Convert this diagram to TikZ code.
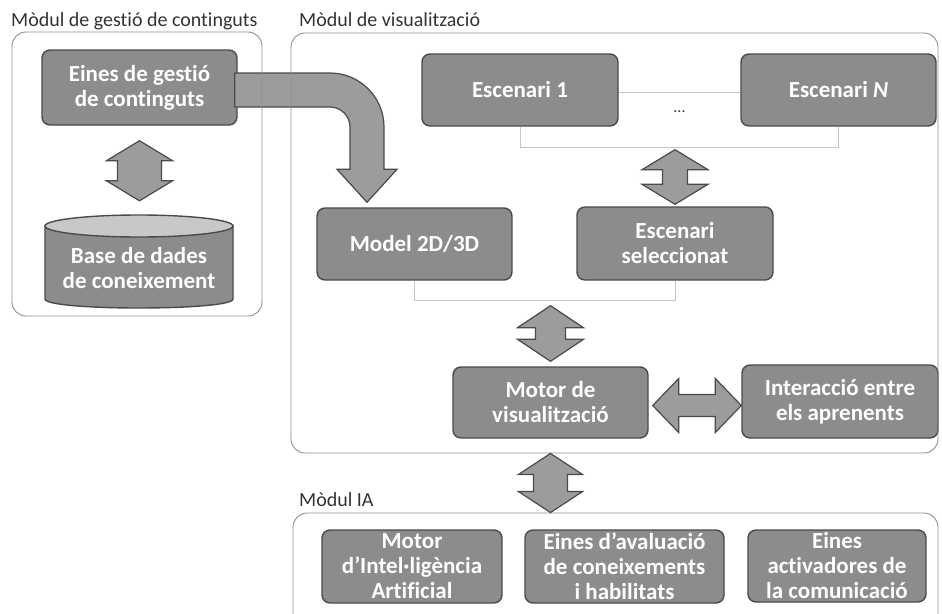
\documentclass[tikz,border=0pt]{standalone}
\usepackage{fontspec}
\setmainfont{Carlito}[Ligatures=NoCommon]
\usetikzlibrary{calc}
\definecolor{boxfill}{HTML}{8C8C8C}
\definecolor{boxline}{HTML}{4A4A4A}
\definecolor{modline}{HTML}{8E8E8E}
\definecolor{brline}{HTML}{C4C4C4}
\definecolor{arrowfill}{HTML}{9C9C9C}
\definecolor{titlecol}{HTML}{333333}
\definecolor{cyltop}{HTML}{C8C8C8}
\newcommand\fatv[5]{\draw[fat] (#1) -- ($(#1)+(#3,#5)$) -- ($(#1)+(#4,#5)$) -- ($(#2)+(#4,-#5)$) -- ($(#2)+(#3,-#5)$) -- (#2) -- ($(#2)+(-#3,-#5)$) -- ($(#2)+(-#4,-#5)$) -- ($(#1)+(-#4,#5)$) -- ($(#1)+(-#3,#5)$) -- cycle;}
\newcommand\fath[5]{\draw[fat] (#1) -- ($(#1)+(#5,-#3)$) -- ($(#1)+(#5,-#4)$) -- ($(#2)+(-#5,-#4)$) -- ($(#2)+(-#5,-#3)$) -- (#2) -- ($(#2)+(-#5,#3)$) -- ($(#2)+(-#5,#4)$) -- ($(#1)+(#5,#4)$) -- ($(#1)+(#5,#3)$) -- cycle;}
\begin{document}
\begin{tikzpicture}[x=1pt,y=-1pt,
  gbox/.style={draw=boxline, line width=1.4pt, fill=boxfill, rounded corners=8pt, text=white,
    font=\fontsize{23}{25}\selectfont\bfseries, align=center, inner sep=0pt},
  cyltext/.style={text=white, font=\fontsize{23}{25}\selectfont\bfseries, align=center, inner sep=0pt},
  module/.style={draw=modline, line width=0.9pt, rounded corners=14pt, inner sep=0pt},
  title/.style={font=\fontsize{20}{24}\selectfont, text=titlecol, anchor=base west, inner sep=0pt},
  fat/.style={draw=boxline, line width=1.2pt, fill=arrowfill, line join=miter},
  bracket/.style={draw=brline, line width=0.9pt},
  dotstyle/.style={font=\fontsize{16}{18}\selectfont, text=titlecol, inner sep=0pt},
]
\useasboundingbox (0,0) rectangle (942,613);
\clip (0,0) rectangle (942,613);

% cylinder body (drawn first, text node on top)
\draw[draw=boxline, line width=1.4pt, fill=boxfill]
  (45,226) -- (45,299) .. controls (45,311) and (233,311) .. (233,299) -- (233,226) -- cycle;
\draw[draw=boxline, line width=1.4pt, fill=cyltop] (139,226) ellipse [x radius=94, y radius=11];

% boxes
\node[gbox, minimum width=195, minimum height=75] (eines) at (139.5,87.5) {Eines de gestió\\de continguts};
\node[cyltext, minimum width=188, minimum height=82] (base) at (139,268) {Base de dades\\de coneixement};
\node[gbox, minimum width=196, minimum height=72] (esc1) at (520,90) {Escenari 1};
\node[gbox, minimum width=195, minimum height=72] (escN) at (838.5,90) {Escenari \textit{N}};
\node[gbox, minimum width=195, minimum height=72] (model) at (414.5,244) {Model 2D/3D};
\node[gbox, minimum width=196, minimum height=73] (sel) at (675,243.5) {Escenari\\seleccionat};
\node[gbox, minimum width=195, minimum height=71] (motor) at (550.5,402.5) {Motor de\\visualització};
\node[gbox, minimum width=196, minimum height=73] (inter) at (840,401.5) {Interacció entre\\els aprenents};
\node[gbox, minimum width=180, minimum height=73] (ia1) at (412,566.5) {Motor\\d’Intel·ligència\\Artificial};
\node[gbox, minimum width=199, minimum height=73] (ia2) at (624.5,566.5) {Eines d’avaluació\\de coneixements\\i habilitats};
\node[gbox, minimum width=178, minimum height=72] (ia3) at (837,566) {Eines\\activadores de\\la comunicació};

% brackets and thin link
\coordinate (br1) at ($(esc1.south)+(0,21)$);
\draw[bracket] (esc1.south) -- (br1) -| (escN.south);
\draw[bracket] ($(esc1.east)+(0,2)$) -- ($(escN.west)+(0,2)$);
\node[dotstyle] (dots) at ($(esc1.east)!0.5!(escN.west)+(0,22)$) {...};
\coordinate (br2) at ($(model.south)+(0,20)$);
\draw[bracket] (model.south) -- (br2) -| (sel.south);

% curved arrow from eines to model
\coordinate (cA) at ($(eines.east)+(-3,2.5)$);
\coordinate (cB) at ($(model.north)+(-47.5,-5)$);
\coordinate (K) at (cA -| cB);
\draw[fat] ($(cA)+(0,-17)$) -- ($(K)+(-37,-17)$)
  .. controls ($(K)+(-7.2,-17)$) and ($(K)+(17,7.2)$) .. ($(K)+(17,37)$)
  -- ($(cB)+(17,-33)$) -- ($(cB)+(30,-33)$) -- (cB) -- ($(cB)+(-30,-33)$) -- ($(cB)+(-17,-33)$)
  -- ($(K)+(-17,37)$)
  .. controls ($(K)+(-17,26)$) and ($(K)+(-26,17)$) .. ($(K)+(-37,17)$)
  -- ($(cA)+(0,17)$) -- cycle;

% modules
\node[module, minimum width=250, minimum height=284] (modgest) at (137,174) {};
\node[module, minimum width=647, minimum height=420] (modvis) at (614.5,243) {};
\node[module, minimum width=645, minimum height=140] (modia) at (615.5,583) {};

% titles
\node[title] (tgest) at (11,26) {Mòdul de gestió de continguts};
\node[title] (tvis) at (299,27) {Mòdul de visualització};
\node[title] (tia) at (299,506) {Mòdul IA};

% fat double arrows
\coordinate (a1t) at ($(eines.south)+(0,15)$);
\coordinate (a1b) at ($(a1t |- base.north)+(0,-26)$);
\fatv{a1t}{a1b}{33}{22}{20}
\coordinate (a2t) at ($(sel.north |- br1)+(0,2)$);
\coordinate (a2b) at ($(sel.north)+(0,-2)$);
\fatv{a2t}{a2b}{33}{12.5}{20}
\coordinate (a3t) at ($(motor.north |- br2)+(0,5)$);
\coordinate (a3b) at ($(motor.north)+(0,-5)$);
\fatv{a3t}{a3b}{33}{15}{22}
\coordinate (a4l) at ($(motor.east)+(4,3)$);
\coordinate (a4r) at (a4l -| inter.west);
\fath{a4l}{a4r}{27}{11}{26}
\coordinate (a5t) at (motor.south |- modvis.south);
\coordinate (a5b) at (a5t |- modia.north);
\fatv{a5t}{a5b}{32}{17}{21}
\end{tikzpicture}
\end{document}
